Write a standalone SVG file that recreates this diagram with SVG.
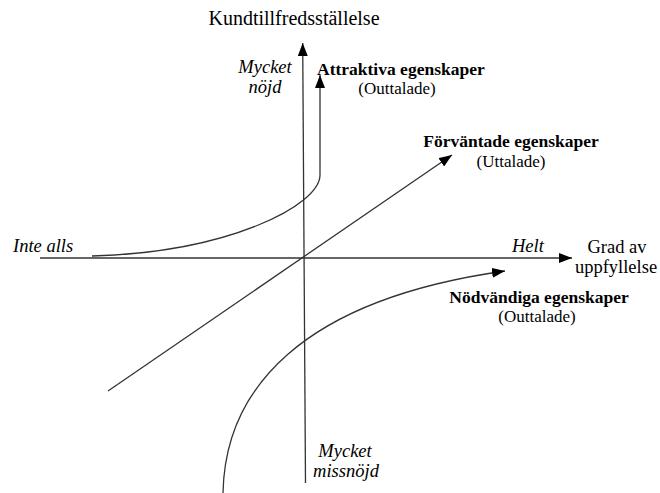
<svg xmlns="http://www.w3.org/2000/svg" width="660" height="493" viewBox="0 0 660 493">
<style>
text{font-family:"Liberation Serif","Times New Roman",serif;font-size:18.5px;fill:#000}
.i{font-style:italic}
.b{font-weight:bold;font-size:17.5px}
.s{font-size:17px}
.ln{fill:none;stroke:#333;stroke-width:1.3}
</style>
<defs>
<marker id="ah" viewBox="0 0 13 10" refX="13" refY="5" markerWidth="13" markerHeight="10" markerUnits="userSpaceOnUse" orient="auto">
<path d="M0,0 L13,5 L0,10 Z" fill="#000"/>
</marker>
</defs>
<rect width="660" height="493" fill="#fff"/>
<g id="connectors">
<path class="ln" d="M305.5,483 L302.7,43" marker-end="url(#ah)"/>
<path class="ln" d="M40,258 L572,258" marker-end="url(#ah)"/>
<path class="ln" d="M92,256 C230,252 320,205 320,175 L320,75" marker-end="url(#ah)"/>
<path class="ln" d="M108,391 L452,155" marker-end="url(#ah)"/>
<path class="ln" d="M223,493 C225,390 300,300 505,271" marker-end="url(#ah)"/>
</g>
<g id="y-axis-label"><text x="294" y="25" text-anchor="middle" style="font-size:20px">Kundtillfredsställelse</text></g>
<g id="mycket-nojd"><text class="i" x="265" y="73" text-anchor="middle">Mycket</text><text class="i" x="265" y="93" text-anchor="middle">nöjd</text></g>
<g id="attraktiva"><text class="b" x="317" y="75">Attraktiva egenskaper</text><text class="s" x="397" y="94" text-anchor="middle">(Outtalade)</text></g>
<g id="forvantade"><text class="b" x="511" y="147" text-anchor="middle">Förväntade egenskaper</text><text class="s" x="511" y="167" text-anchor="middle">(Uttalade)</text></g>
<g id="inte-alls"><text class="i" x="13" y="252">Inte alls</text></g>
<g id="helt"><text class="i" x="512" y="252">Helt</text></g>
<g id="x-axis-label"><text x="617" y="253" text-anchor="middle">Grad av</text><text x="616" y="273" text-anchor="middle">uppfyllelse</text></g>
<g id="nodvandiga"><text class="b" x="539" y="303" text-anchor="middle">Nödvändiga egenskaper</text><text class="s" x="537" y="322" text-anchor="middle">(Outtalade)</text></g>
<g id="mycket-missnojd"><text class="i" x="345" y="457" text-anchor="middle">Mycket</text><text class="i" x="346" y="477" text-anchor="middle">missnöjd</text></g>
</svg>
